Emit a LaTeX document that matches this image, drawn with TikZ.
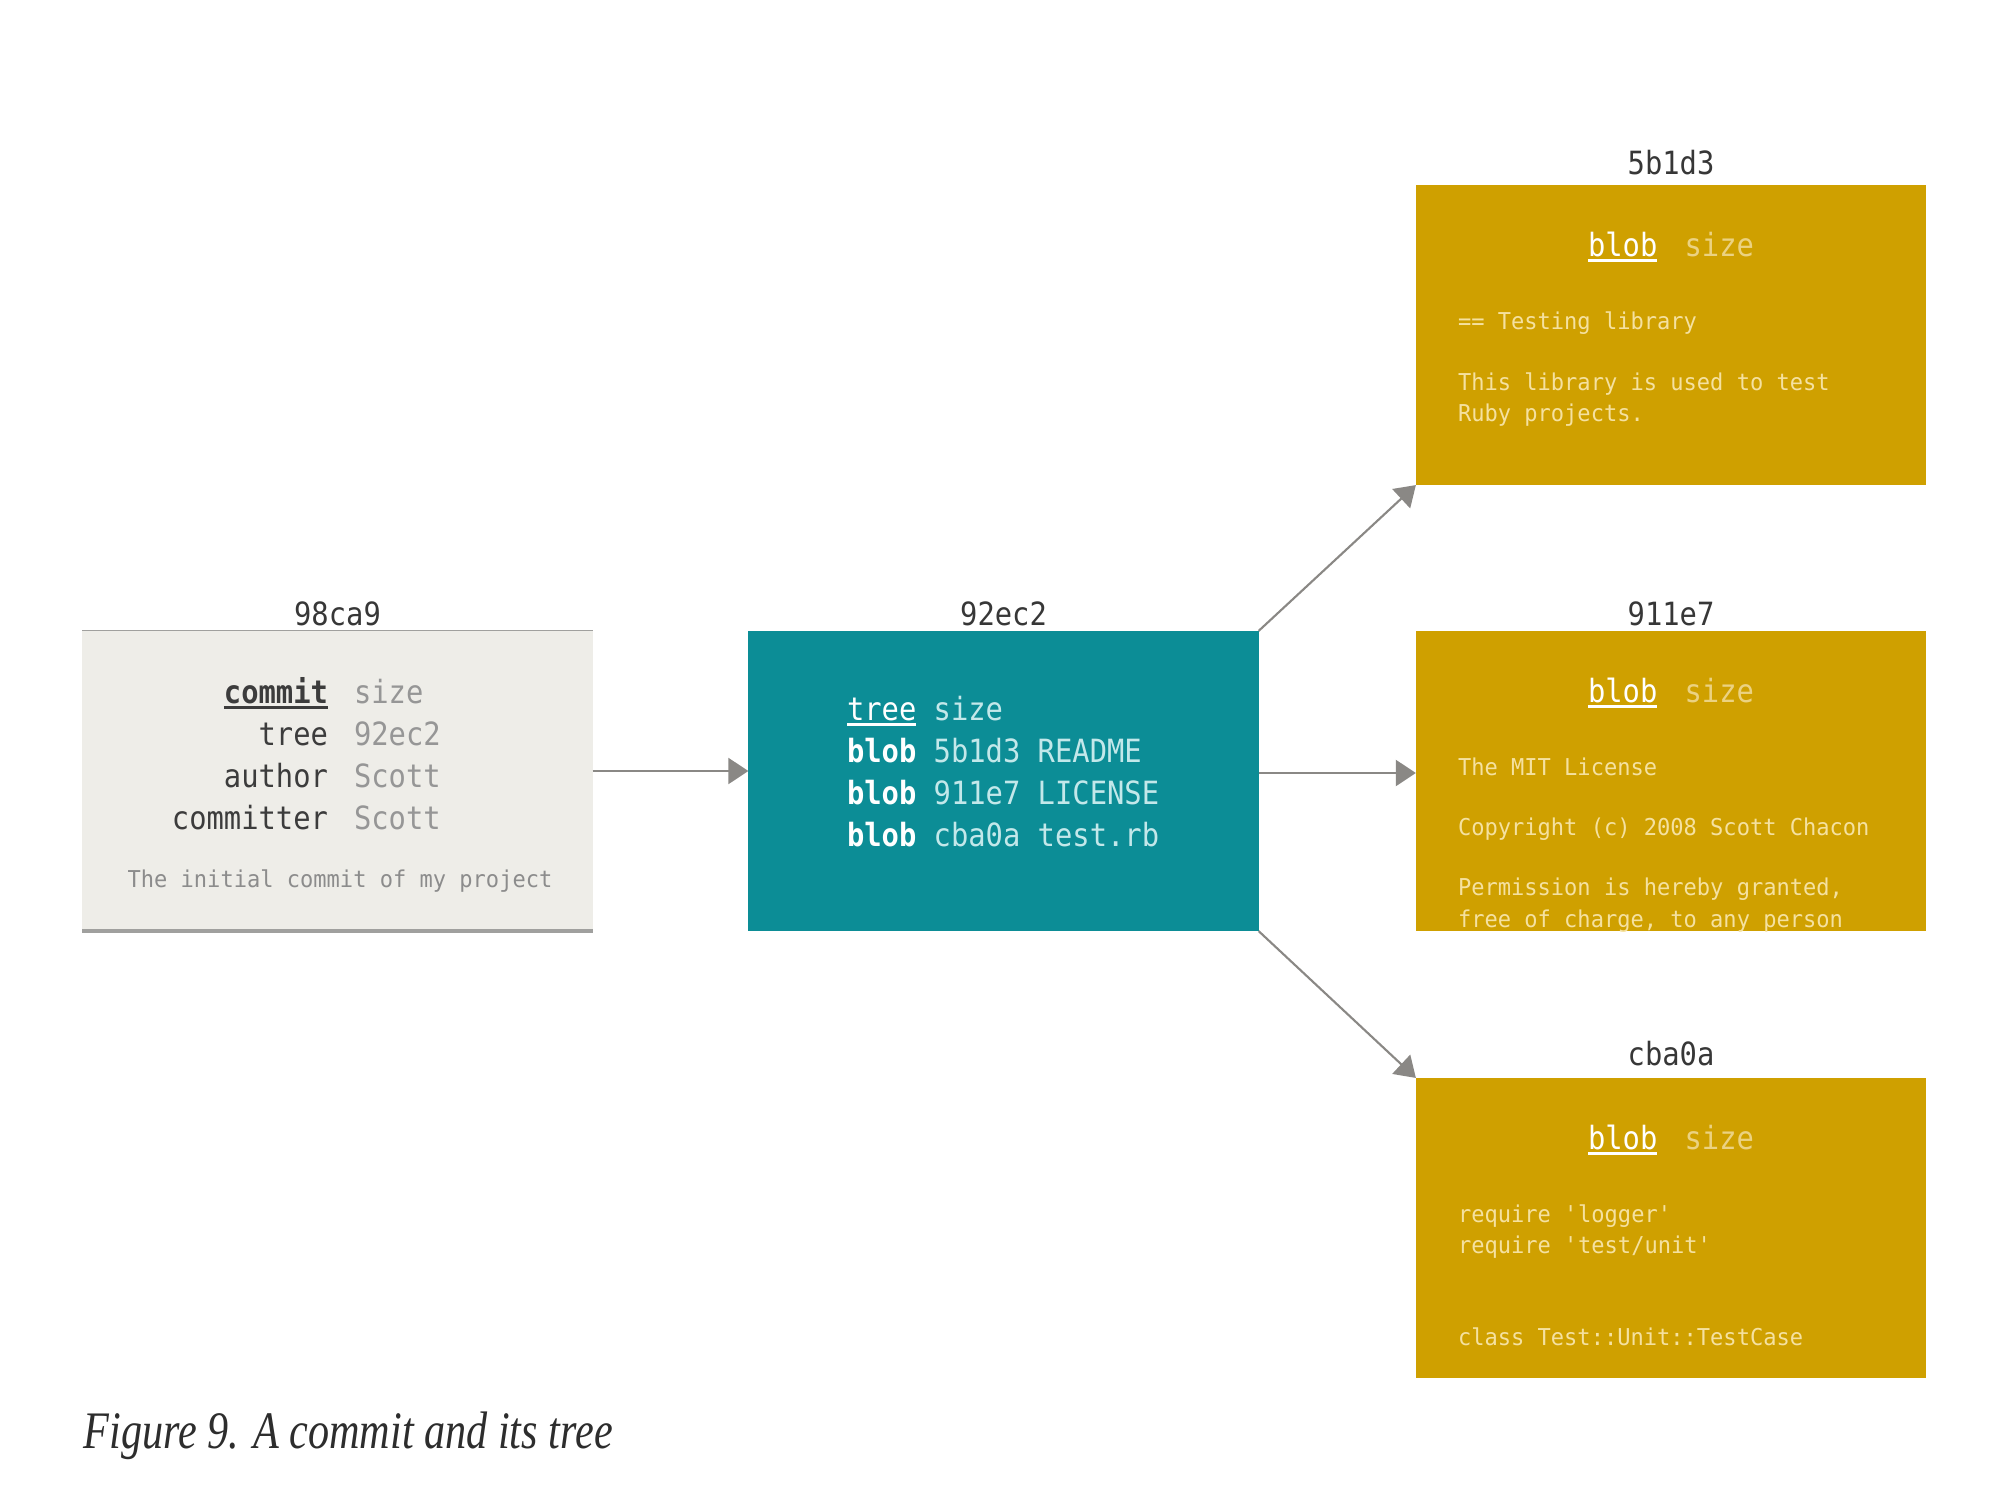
\documentclass[tikz,border=0pt]{standalone}
\usepackage{fontspec}
\usetikzlibrary{arrows.meta}
\newfontfamily\monob[FakeStretch=0.9]{DejaVu Sans Mono}
\newfontfamily\monos[FakeStretch=0.95]{DejaVu Sans Mono}
\newfontfamily\capfont[FakeStretch=0.8]{Liberation Serif}
\newcommand\bigmono{\monob\fontsize{9.1}{11}\selectfont}
\newcommand\smallmono{\monos\fontsize{6.6}{8}\selectfont}
\newcommand\ulx[1]{\setbox0\hbox{#1}\rlap{\rule[-1.7pt]{\wd0}{0.75pt}}\box0}
\definecolor{treeteal}{RGB}{12,141,150}
\definecolor{blobgold}{RGB}{207,160,0}
\definecolor{commitfill}{RGB}{238,237,232}
\definecolor{commitline}{RGB}{160,160,158}
\definecolor{arrowgray}{RGB}{138,136,133}
\definecolor{titlegray}{RGB}{55,55,55}
\definecolor{commitdark}{RGB}{60,60,60}
\definecolor{commitval}{RGB}{150,150,150}
\definecolor{commitmsg}{RGB}{140,140,140}
\definecolor{treeval}{RGB}{195,232,234}
\definecolor{blobsize}{RGB}{235,210,130}
\definecolor{blobtext}{RGB}{245,225,160}
\definecolor{captext}{RGB}{45,45,45}
\begin{document}
\begin{tikzpicture}[x=0.01cm,y=-0.01cm,
  objbox/.style={minimum width=5.1cm,minimum height=3.0cm,inner sep=0pt,outer sep=0pt,draw=none},
  txt/.style={inner sep=0pt,outer sep=0pt,font=\bigmono},
  stxt/.style={inner sep=0pt,outer sep=0pt,font=\smallmono,text=blobtext,anchor=base west},
  titletxt/.style={inner sep=0pt,outer sep=0pt,font=\bigmono,text=titlegray,anchor=base},
  arr/.style={draw=arrowgray,line width=0.6pt,-{Triangle[length=5.7pt,width=7.4pt]}}]
\useasboundingbox[fill=white] (0,0) rectangle (2000,1500);

% boxes
\node[objbox,fill=commitfill] (commit) at (337.5,780.5) {};
\draw[commitline,line width=0.5pt] (commit.north west) -- (commit.north east);
\draw[commitline,line width=1.1pt] (commit.south west) -- (commit.south east);
\node[objbox,fill=treeteal] (tree) at (1003.5,781) {};
\node[objbox,fill=blobgold] (b1) at (1671,335) {};
\node[objbox,fill=blobgold] (b2) at (1671,781) {};
\node[objbox,fill=blobgold] (b3) at (1671,1228) {};

% titles
\node[titletxt] (t98) at (337.5,625) {98ca9};
\node[titletxt] (t92) at (1003.5,625) {92ec2};
\node[titletxt] (t5b) at (1671,175) {5b1d3};
\node[titletxt] (t91) at (1671,625) {911e7};
\node[titletxt] (tcb) at (1671,1065) {cba0a};

% commit content
\node[txt,anchor=base east,text=commitdark] (ck1) at (328,703) {\ulx{\bfseries commit}};
\node[txt,anchor=base west,text=commitval] (cv1) at (354,703) {size};
\node[txt,anchor=base east,text=commitdark] (ck2) at (328,745) {tree};
\node[txt,anchor=base west,text=commitval] (cv2) at (354,745) {92ec2};
\node[txt,anchor=base east,text=commitdark] (ck3) at (328,787) {author};
\node[txt,anchor=base west,text=commitval] (cv3) at (354,787) {Scott};
\node[txt,anchor=base east,text=commitdark] (ck4) at (328,829) {committer};
\node[txt,anchor=base west,text=commitval] (cv4) at (354,829) {Scott};
\node[inner sep=0pt,font=\smallmono,text=commitmsg,anchor=base] (cmsg) at (340,887) {The initial commit of my project};

% tree content
\node[txt,anchor=base west] (tl1) at (847,720) {\textcolor{white}{\ulx{tree}} \textcolor{treeval}{size}};
\node[txt,anchor=base west] (tl2) at (847,762) {\textcolor{white}{\bfseries blob} \textcolor{treeval}{5b1d3 README}};
\node[txt,anchor=base west] (tl3) at (847,804) {\textcolor{white}{\bfseries blob} \textcolor{treeval}{911e7 LICENSE}};
\node[txt,anchor=base west] (tl4) at (847,846) {\textcolor{white}{\bfseries blob} \textcolor{treeval}{cba0a test.rb}};

% blob 1
\node[txt,anchor=base] (h1) at (1671,256) {\textcolor{white}{\ulx{blob}}\hspace{0.85em}\textcolor{blobsize}{size}};
\node[stxt] (b1l1) at (1458,329) {== Testing library};
\node[stxt] (b1l2) at (1458,390) {This library is used to test};
\node[stxt] (b1l3) at (1458,421) {Ruby projects.};

% blob 2
\node[txt,anchor=base] (h2) at (1671,702) {\textcolor{white}{\ulx{blob}}\hspace{0.85em}\textcolor{blobsize}{size}};
\begin{scope}
\clip (b2.south west) rectangle (b2.north east);
\node[stxt] (b2l1) at (1458,775) {The MIT License};
\node[stxt] (b2l2) at (1458,835) {Copyright (c) 2008 Scott Chacon};
\node[stxt] (b2l3) at (1458,895) {Permission is hereby granted,};
\node[stxt] (b2l4) at (1458,927) {free of charge, to any person};
\end{scope}

% blob 3
\node[txt,anchor=base] (h3) at (1671,1149) {\textcolor{white}{\ulx{blob}}\hspace{0.85em}\textcolor{blobsize}{size}};
\node[stxt] (b3l1) at (1458,1222) {require \textquotesingle logger\textquotesingle};
\node[stxt] (b3l2) at (1458,1253) {require \textquotesingle test/unit\textquotesingle};
\node[stxt] (b3l3) at (1458,1345) {class Test::Unit::TestCase};

% connectors
\coordinate (y1) at (0,771);
\coordinate (y2) at (0,773);
\draw[arr] (commit.east |- y1) -- (tree.west |- y1);
\draw[arr] (tree.east |- y2) -- (b2.west |- y2);
\draw[arr] (tree.north east) -- (b1.south west);
\draw[arr] (tree.south east) -- (b3.north west);

% caption
\node[inner sep=0pt,anchor=base west,font=\capfont\itshape\fontsize{15}{18}\selectfont,text=captext] (cap) at (83,1448) {Figure 9. A commit and its tree};
\end{tikzpicture}
\end{document}
